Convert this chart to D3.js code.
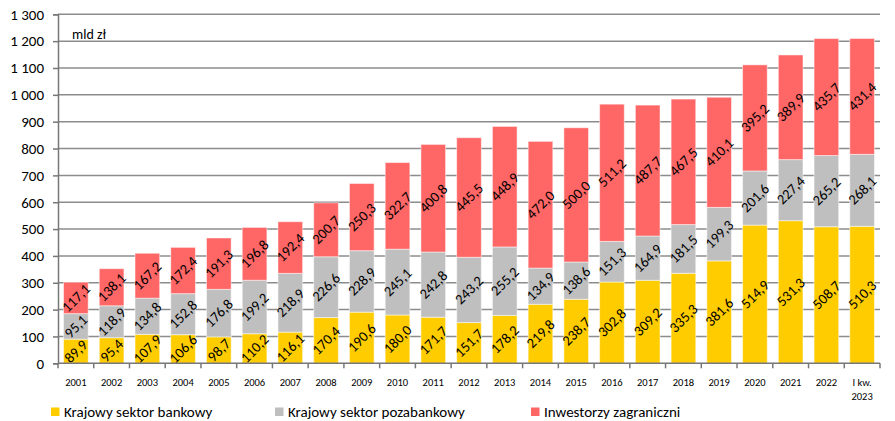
<!DOCTYPE html>
<html><head><meta charset="utf-8">
<script src="https://cdn.jsdelivr.net/npm/d3@7"></script>
<style>body{margin:0;background:#fff;font-family:Calibri,"Carlito","Liberation Sans",Arial,sans-serif;}</style>
</head><body><svg id="c" width="895" height="421"></svg>
<script>
const categories = ["2001","2002","2003","2004","2005","2006","2007","2008","2009","2010","2011","2012","2013","2014","2015","2016","2017","2018","2019","2020","2021","2022","I kw.|2023"];
const bankowy = [89.9,95.4,107.9,106.6,98.7,110.2,116.1,170.4,190.6,180.0,171.7,151.7,178.2,219.8,238.7,302.8,309.2,335.3,381.6,514.9,531.3,508.7,510.3];
const pozabankowy = [95.1,118.9,134.8,152.8,176.8,199.2,218.9,226.6,228.9,245.1,242.8,243.2,255.2,134.9,138.6,151.3,164.9,181.5,199.3,201.6,227.4,265.2,268.1];
const zagraniczni = [117.1,138.1,167.2,172.4,191.3,196.8,192.4,200.7,250.3,322.7,400.8,445.5,448.9,472.0,500.0,511.2,487.7,467.5,410.1,395.2,389.9,435.7,431.4];
const seriesNames = ["Krajowy sektor bankowy","Krajowy sektor pozabankowy","Inwestorzy zagraniczni"];
const colors = ["#FFCC00","#BFBFBF","#FF6666"];
const yTicks = [0,100,200,300,400,500,600,700,800,900,1000,1100,1200,1300];

(function(){
const svg = d3.select("#c");
const pL = 58, pR = 880, pT = 14.3, pB = 363.3;
const x = d3.scaleBand().domain(categories).range([pL,pR]).paddingInner(0.31).paddingOuter(0.155);
const y = d3.scaleLinear().domain([0,1300]).range([pB,pT]);
const fmt = v => v.toFixed(1).replace(".",",");
const tickFmt = v => v>=1000 ? "1 " + String(v-1000).padStart(3,"0") : String(v);

svg.append("g").selectAll("line").data(yTicks.filter(d=>d>0)).join("line")
  .attr("x1",pL).attr("x2",pR).attr("y1",d=>y(d)).attr("y2",d=>y(d))
  .attr("stroke","#8c8c8c").attr("stroke-width",1.5);

const data = categories.map((c,i)=>({cat:c, v:[bankowy[i],pozabankowy[i],zagraniczni[i]]}));
const stack = d3.stack().keys([0,1,2]).value((d,k)=>d.v[k]);
const layers = stack(data);

const g = svg.append("g");
layers.forEach((layer,k)=>{
  g.selectAll(null).data(layer).join("rect")
    .attr("x",d=>x(d.data.cat)).attr("width",x.bandwidth())
    .attr("y",d=>y(d[1])).attr("height",d=>y(d[0])-y(d[1]))
    .attr("fill",colors[k]).attr("stroke","#ffffff").attr("stroke-opacity",0.5).attr("stroke-width",1);
});
layers.forEach((layer,k)=>{
  g.selectAll(null).data(layer).join("text")
    .attr("transform",d=>`translate(${x(d.data.cat)+x.bandwidth()/2},${y((d[0]+d[1])/2)}) rotate(-45)`)
    .attr("text-anchor","middle").attr("dominant-baseline","central")
    .attr("font-size",14.5).attr("fill","#000")
    .text(d=>fmt(d.data.v[k]));
});

const ya = svg.append("g").attr("transform",`translate(${pL},0)`)
  .call(d3.axisLeft(y).tickValues(yTicks).tickFormat(tickFmt).tickSize(5).tickPadding(9));
ya.select(".domain").attr("stroke","#777").attr("stroke-width",1.5);
ya.selectAll(".tick line").attr("stroke","#777").attr("stroke-width",1.5);
ya.selectAll("text").attr("font-size",15).attr("fill","#000").attr("font-family","Calibri,Carlito,'Liberation Sans',Arial,sans-serif");

const xa = svg.append("g").attr("transform",`translate(0,${pB})`);
xa.append("line").attr("x1",pL).attr("x2",pR).attr("stroke","#777").attr("stroke-width",1.5);
const bounds = d3.range(categories.length+1).map(i=> i<categories.length ? x(categories[i]) - x.step()*x.paddingInner()/2 : pR);
bounds[0]=pL;
xa.selectAll(null).data(bounds).join("line").attr("x1",d=>d).attr("x2",d=>d).attr("y1",0).attr("y2",5).attr("stroke","#777").attr("stroke-width",1.5);
const xt = xa.selectAll(null).data(categories).join("text")
  .attr("x",d=>x(d)+x.bandwidth()/2).attr("y",23).attr("text-anchor","middle")
  .attr("font-size",10.5).attr("fill","#000");
xt.each(function(d){
  const parts = d.split("|");
  const t = d3.select(this);
  parts.forEach((p,i)=>t.append("tspan").attr("x",x(d)+x.bandwidth()/2).attr("dy",i?14:0).text(p));
});

svg.append("text").attr("x",72).attr("y",39).attr("font-size",14).attr("fill","#000").text("mld zł");

const legX = [51,275,531];
seriesNames.forEach((n,i)=>{
  svg.append("rect").attr("x",legX[i]).attr("y",407.5).attr("width",8.5).attr("height",8.5).attr("fill",colors[i]);
  svg.append("text").attr("x",legX[i]+13).attr("y",416.5).attr("font-size",15).attr("fill","#000").text(n);
});
})();
</script></body></html>
